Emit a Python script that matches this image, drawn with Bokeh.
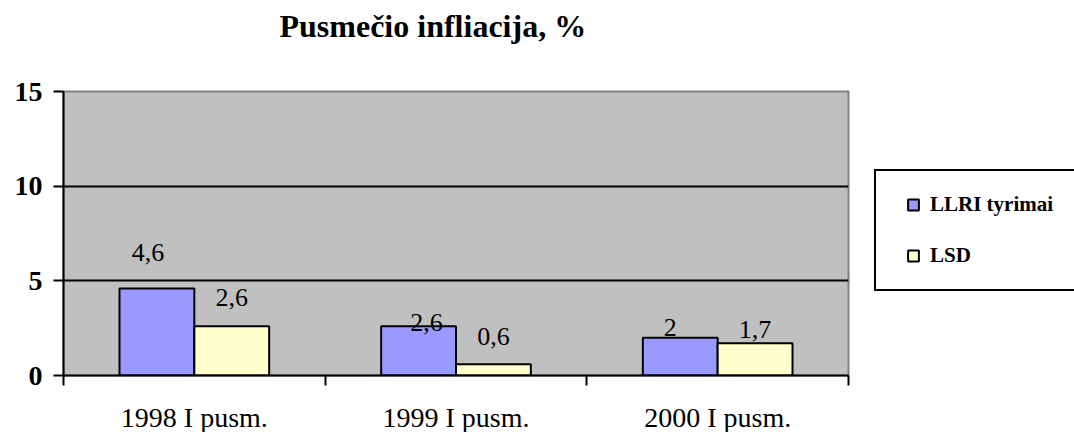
from bokeh.plotting import figure
from bokeh.models import (ColumnDataSource, FixedTicker, Legend, LegendItem, Title, Range1d)
from bokeh.core.properties import value
from bokeh.embed import file_html
from bokeh.resources import INLINE

# ---- data ----
categories = ["1998 I pusm.", "1999 I pusm.", "2000 I pusm."]
llri = [4.6, 2.6, 2.0]
lsd = [2.6, 0.6, 1.7]
series_names = ["LLRI tyrimai", "LSD"]
y_ticks = [0, 5, 10, 15]
title_text = "Pusmečio infliacija, %"

# ---- styles ----
FONT = "Liberation Serif"
BLUE = "#9999FF"
YELLOW = "#FFFFCC"
BG = "#C0C0C0"
BAR_W = 0.286
# label nudges (px), mimicking the original data-label placement
llri_dx = [-9, 8, -10]
llri_dy = [-36, -4, -10]
lsd_dx = [0, 0, 0]
lsd_dy = [-29, -28, -14]

def fmt(v):
    return f"{v:g}".replace(".", ",")

centers = [i + 0.5 for i in range(len(categories))]

src_a = ColumnDataSource(dict(x=[c - BAR_W / 2 for c in centers], top=llri,
                              lab=[fmt(v) for v in llri], dx=llri_dx, dy=llri_dy))
src_b = ColumnDataSource(dict(x=[c + BAR_W / 2 for c in centers], top=lsd,
                              lab=[fmt(v) for v in lsd], dx=lsd_dx, dy=lsd_dy))

p = figure(frame_width=785, frame_height=284, output_backend="svg", toolbar_location=None,
           x_range=Range1d(0, len(categories)), y_range=Range1d(0, 15),
           min_border_left=63, min_border_right=226, min_border_top=91, min_border_bottom=55)

p.border_fill_color = "white"
p.background_fill_color = BG
p.outline_line_color = "#808080"
p.outline_line_width = 2

# spacer between frame and title, then the title itself (further out)
p.add_layout(Title(text=" ", text_font_size="1px", standoff=45), "above")
p.add_layout(Title(text=title_text, align="left", offset=216, standoff=0,
                   text_font=FONT, text_font_size="32px", text_font_style="bold",
                   text_color="black"), "above")

p.vbar(x="x", top="top", width=BAR_W, source=src_a, fill_color=BLUE,
       line_color="black", line_width=2)
p.vbar(x="x", top="top", width=BAR_W, source=src_b, fill_color=YELLOW,
       line_color="black", line_width=2)

for s in (src_a, src_b):
    p.text(x="x", y="top", text="lab", source=s, x_offset="dx", y_offset="dy",
           text_align="center", text_baseline="middle",
           text_font=value(FONT), text_font_size="26px", text_color="black")

# legend-only square markers (hidden in the plot, drawn by the legend)
k1 = p.scatter(x="x", y="top", source=src_a, marker="square", fill_color=BLUE,
               line_color="black", line_width=2, visible=False)
k2 = p.scatter(x="x", y="top", source=src_b, marker="square", fill_color=YELLOW,
               line_color="black", line_width=2, visible=False)

# x axis
p.xaxis.ticker = FixedTicker(ticks=centers, minor_ticks=list(range(len(categories) + 1)))
p.xaxis.major_label_overrides = {c: lab for c, lab in zip(centers, categories)}
p.xaxis.major_tick_line_color = None
p.xaxis.major_tick_out = 0
p.xaxis.major_tick_in = 0
p.xaxis.minor_tick_out = 10
p.xaxis.minor_tick_in = 0
p.xaxis.minor_tick_line_color = "black"
p.xaxis.minor_tick_line_width = 2
p.xaxis.axis_line_color = "black"
p.xaxis.axis_line_width = 2
p.xaxis.major_label_standoff = 16
p.xaxis.major_label_text_font = FONT
p.xaxis.major_label_text_font_size = "28px"
p.xaxis.major_label_text_color = "black"

# y axis
p.yaxis.ticker = FixedTicker(ticks=y_ticks)
p.yaxis.major_tick_out = 10
p.yaxis.major_tick_in = 0
p.yaxis.major_tick_line_width = 2
p.yaxis.major_tick_line_color = "black"
p.yaxis.minor_tick_line_color = None
p.yaxis.axis_line_color = "black"
p.yaxis.axis_line_width = 2
p.yaxis.major_label_standoff = 11
p.yaxis.major_label_text_font = FONT
p.yaxis.major_label_text_font_size = "28px"
p.yaxis.major_label_text_font_style = "bold"
p.yaxis.major_label_text_color = "black"

p.xgrid.grid_line_color = None
p.ygrid.ticker = FixedTicker(ticks=[5, 10])
p.ygrid.grid_line_color = "black"
p.ygrid.grid_line_width = 2

legend = Legend(items=[LegendItem(label=series_names[0], renderers=[k1], index=0),
                       LegendItem(label=series_names[1], renderers=[k2], index=0)],
                location=(26, 84))
legend.click_policy = "none"
legend.border_line_color = "black"
legend.border_line_alpha = 1
legend.border_line_width = 2
legend.background_fill_color = "white"
legend.background_fill_alpha = 1
legend.padding = 20
legend.spacing = 24
legend.margin = 0
legend.glyph_width = 34
legend.glyph_height = 27
legend.label_height = 21
legend.label_width = 128
legend.label_standoff = 0
legend.label_text_font = FONT
legend.label_text_font_size = "21px"
legend.label_text_font_style = "bold"
legend.label_text_color = "black"
legend.label_text_baseline = "middle"
p.add_layout(legend, "right")

open("out.html", "w").write(file_html(p, INLINE))
